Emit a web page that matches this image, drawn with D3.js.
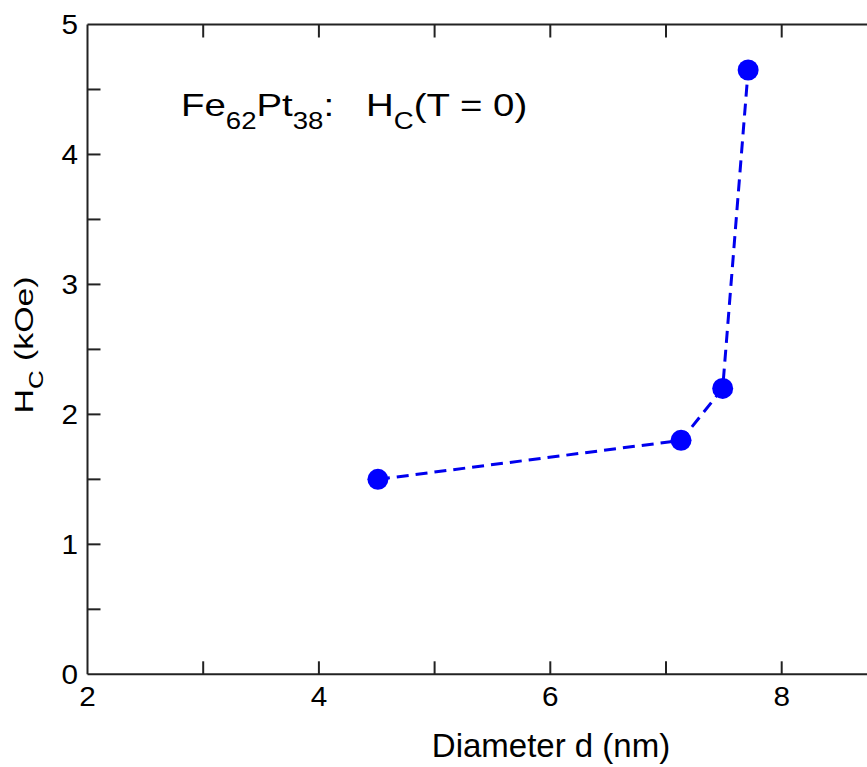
<!DOCTYPE html>
<html><head><meta charset="utf-8">
<script src="https://cdn.jsdelivr.net/npm/d3@7"></script>
<style>body{margin:0;background:#fff}svg{display:block;font-family:"Liberation Sans",Arial,sans-serif}</style>
</head><body><svg id="c" width="867" height="767"></svg>
<script>
const diameter = [4.51, 7.13, 7.49, 7.71];
const hc = [1.5, 1.8, 2.2, 4.65];
const xTicks = [2, 4, 6, 8];
const xMinor = [3, 5, 7, 9];
const yTicks = [0, 1, 2, 3, 4, 5];
const yMinor = [0.5, 1.5, 2.5, 3.5, 4.5];

const svg = d3.select("#c");
const L = 87.5, T = 24.5, B = 674.3;
const x = d3.scaleLinear().domain([2, 10]).range([L, L + 8 * 115.7]);
const y = d3.scaleLinear().domain([0, 5]).range([B, T]);
const R = x(10);
const ink = "#222";

svg.append("line").attr("x1", L).attr("x2", R).attr("y1", B).attr("y2", B).attr("stroke", ink).attr("stroke-width", 2);
svg.append("line").attr("x1", L).attr("x2", R).attr("y1", T).attr("y2", T).attr("stroke", ink).attr("stroke-width", 2);
svg.append("line").attr("x1", L).attr("x2", L).attr("y1", T).attr("y2", B).attr("stroke", ink).attr("stroke-width", 2);

const tl = 13;
xTicks.concat(xMinor).filter(v => v > 2).forEach(v => {
  svg.append("line").attr("x1", x(v)).attr("x2", x(v)).attr("y1", B).attr("y2", B - tl).attr("stroke", ink).attr("stroke-width", 2);
  svg.append("line").attr("x1", x(v)).attr("x2", x(v)).attr("y1", T).attr("y2", T + tl).attr("stroke", ink).attr("stroke-width", 2);
});
yTicks.concat(yMinor).filter(v => v > 0 && v < 5).forEach(v => {
  svg.append("line").attr("x1", L).attr("x2", L + tl).attr("y1", y(v)).attr("y2", y(v)).attr("stroke", ink).attr("stroke-width", 2);
});

const fs = 27, sx = 1.1;
svg.selectAll(".xl").data(xTicks).enter().append("text")
  .attr("transform", d => `translate(${x(d)},706) scale(${sx},1)`).attr("text-anchor", "middle")
  .attr("font-size", fs).attr("fill", "#000").text(d => d);
svg.selectAll(".yl").data(yTicks).enter().append("text")
  .attr("transform", d => `translate(78,${y(d) + 9.5}) scale(${sx},1)`).attr("text-anchor", "end")
  .attr("font-size", fs).attr("fill", "#000").text(d => d);

// axis titles
svg.append("text").attr("transform", "translate(551,757)").attr("text-anchor", "middle")
  .attr("font-size", 33).attr("fill", "#000").text("Diameter d (nm)");
const yt = svg.append("text").attr("transform", "translate(33,345) rotate(-90) scale(1.3,1)")
  .attr("text-anchor", "middle").attr("font-size", 26).attr("fill", "#000");
yt.append("tspan").text("H");
yt.append("tspan").attr("font-size", 20).attr("dy", 10).text("C");
yt.append("tspan").attr("dy", -10).text(" (kOe)");

// annotation
const an = svg.append("text").attr("transform", "translate(181,116) scale(1.2,1)").attr("font-size", 32).attr("fill", "#000");
an.append("tspan").text("Fe");
an.append("tspan").attr("font-size", 23).attr("dy", 13).text("62");
an.append("tspan").attr("dy", -13).text("Pt");
an.append("tspan").attr("font-size", 23).attr("dy", 13).text("38");
an.append("tspan").attr("dy", -13).text(":\u00a0\u00a0 H");
an.append("tspan").attr("font-size", 23).attr("dy", 13).text("C");
an.append("tspan").attr("dy", -13).text("(T = 0)");

// data
const pts = diameter.map((d, i) => [d, hc[i]]);
svg.append("path").datum(pts)
  .attr("d", d3.line().x(d => x(d[0])).y(d => y(d[1])))
  .attr("fill", "none").attr("stroke", "#0000ee").attr("stroke-width", 3)
  .attr("stroke-dasharray", "12,7");
svg.selectAll(".pt").data(pts).enter().append("circle")
  .attr("cx", d => x(d[0])).attr("cy", d => y(d[1])).attr("r", 10.5)
  .attr("fill", "#0000ff");
</script></body></html>
